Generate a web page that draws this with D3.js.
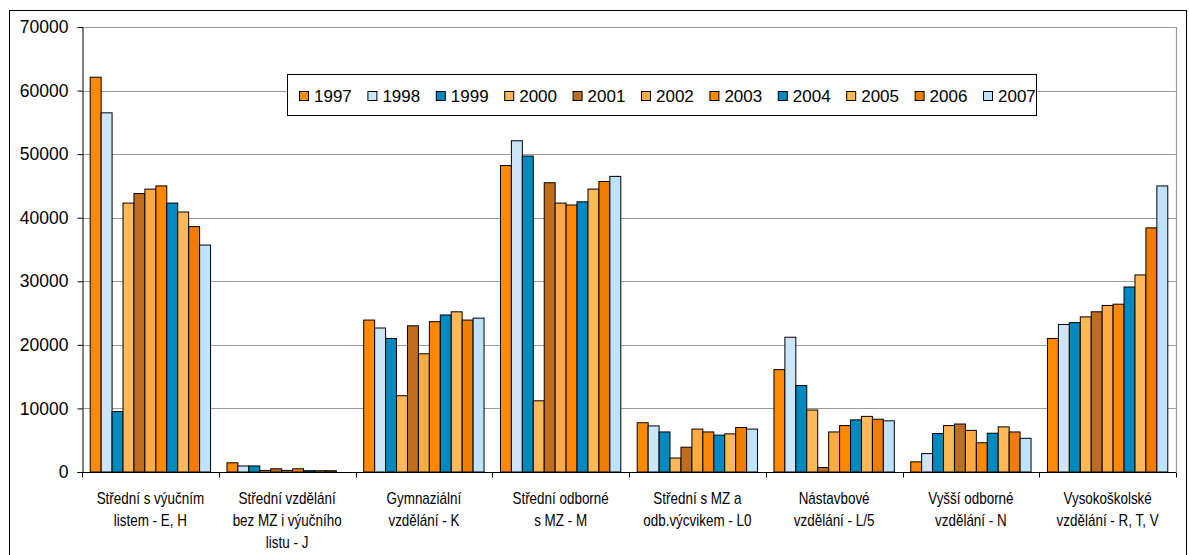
<!DOCTYPE html>
<html><head><meta charset="utf-8">
<script src="https://cdn.jsdelivr.net/npm/d3@7"></script>
<style>body{margin:0;background:#fff;}svg{display:block;}</style>
</head><body>
<svg id="chart" width="1189" height="555"></svg>
<script>
const categories = [
  ["Střední s výučním", "listem - E, H"],
  ["Střední vzdělání", "bez MZ i výučního", "listu - J"],
  ["Gymnaziální", "vzdělání - K"],
  ["Střední odborné", "s MZ - M"],
  ["Střední s MZ a", "odb.výcvikem - L0"],
  ["Nástavbové", "vzdělání - L/5"],
  ["Vyšší odborné", "vzdělání - N"],
  ["Vysokoškolské", "vzdělání - R, T, V"]
];
const years = ["1997","1998","1999","2000","2001","2002","2003","2004","2005","2006","2007"];
const colors = ["#FF8A00","#CDE6F7","#0089BE","#FFB858","#C06E1E","#FFAA45","#FF8800","#008ABF","#FFB858","#F07D00","#BEE3FF"];
// values per year, one entry per category
const v1997 = [62100, 1450, 23900, 48200, 7750, 16100, 1600, 21000];
const v1998 = [56500,  950, 22650, 52100, 7250, 21200, 2900, 23200];
const v1999 = [ 9500,  950, 21000, 49700, 6300, 13600, 6050, 23500];
const v2000 = [42300,  250, 12000, 11200, 2200,  9750, 7300, 24400];
const v2001 = [43800,  500, 23000, 45500, 3900,   700, 7550, 25200];
const v2002 = [44500,  250, 18600, 42300, 6750,  6300, 6550, 26200];
const v2003 = [45000,  500, 23650, 42000, 6300,  7300, 4600, 26400];
const v2004 = [42300,  200, 24700, 42500, 5800,  8200, 6100, 29100];
const v2005 = [40900,  200, 25200, 44500, 6000,  8750, 7100, 31000];
const v2006 = [38600,  200, 23900, 45700, 7000,  8300, 6300, 38400];
const v2007 = [35700,    0, 24200, 46500, 6750,  8050, 5300, 45000];
const series = [v1997,v1998,v1999,v2000,v2001,v2002,v2003,v2004,v2005,v2006,v2007];
const yTicks = [0,10000,20000,30000,40000,50000,60000,70000];

const svg = d3.select("#chart");
const L = 82, R = 1176, T = 27, B = 472;
const font = "'Liberation Sans', Arial, sans-serif";

// outer border
svg.append("rect").attr("x",9.5).attr("y",10.5).attr("width",1177).attr("height",560)
  .attr("fill","none").attr("stroke","#000").attr("stroke-width",1);

const x0 = d3.scaleBand().domain(d3.range(categories.length)).range([L,R]).paddingInner(0).paddingOuter(0);
const bw = x0.bandwidth()/12.5;
const x1 = d3.scaleBand().domain(years).range([0.75*bw, 0.75*bw + 11*bw]).padding(0);
const y = d3.scaleLinear().domain([0,70000]).range([B,T]);

// gridlines
svg.append("g").selectAll("line").data(yTicks.filter(d=>d>0)).join("line")
  .attr("x1",L).attr("x2",R).attr("y1",d=>Math.round(y(d))+0.5).attr("y2",d=>Math.round(y(d))+0.5)
  .attr("stroke","#9a9a9a").attr("stroke-width",1.2);
// right plot border
svg.append("line").attr("x1",R+0.5).attr("x2",R+0.5).attr("y1",T).attr("y2",B).attr("stroke","#9a9a9a").attr("stroke-width",1.2);

// bars
const g = svg.append("g");
series.forEach((vals,si)=>{
  g.append("g").selectAll("rect").data(vals.map((v,ci)=>({v,ci}))).join("rect")
    .filter(d=>d.v>0)
    .attr("x",d=>x0(d.ci)+x1(years[si]))
    .attr("y",d=>y(d.v))
    .attr("width",x1.bandwidth())
    .attr("height",d=>B-y(d.v))
    .attr("fill",colors[si]).attr("stroke","#000").attr("stroke-width",1);
});

// y axis
const yAxis = d3.axisLeft(y).tickValues(yTicks).tickSize(5).tickPadding(9).tickFormat(d3.format("d"));
const ya = svg.append("g").attr("transform",`translate(${L+0.5},0)`).call(yAxis);
ya.select(".domain").attr("stroke","#000");
ya.selectAll("line").attr("stroke","#000");
ya.selectAll("text").attr("font-family",font).attr("font-size","17.5px").attr("fill","#000");

// x axis
const xa = svg.append("g").attr("transform",`translate(0,${B+0.5})`);
xa.append("line").attr("x1",L).attr("x2",R).attr("stroke","#000");
xa.selectAll("line.t").data(d3.range(categories.length+1)).join("line").attr("class","t")
  .attr("x1",i=>Math.round(L+i*x0.bandwidth())+0.5).attr("x2",i=>Math.round(L+i*x0.bandwidth())+0.5)
  .attr("y1",0).attr("y2",5).attr("stroke","#000");
categories.forEach((lines,ci)=>{
  const cx = x0(ci)+x0.bandwidth()/2;
  const t = svg.append("text").attr("transform",`translate(${cx},504) scale(0.84,1)`)
    .attr("text-anchor","middle").attr("font-family",font)
    .attr("font-size","16px").attr("fill","#000");
  lines.forEach((ln,li)=>t.append("tspan").attr("x",0).attr("dy",li===0?0:22).text(ln));
});

// legend
const lg = svg.append("g");
lg.append("rect").attr("x",287.5).attr("y",74.5).attr("width",749).attr("height",41)
  .attr("fill","#fff").attr("stroke","#000").attr("stroke-width",1);
const step = 68.4;
years.forEach((yr,i)=>{
  const gx = 299 + i*step;
  lg.append("rect").attr("x",gx+0.5).attr("y",91.5).attr("width",9).attr("height",9)
    .attr("fill",colors[i]).attr("stroke","#000").attr("stroke-width",1);
  lg.append("text").attr("x",gx+15).attr("y",102).attr("font-family",font).attr("font-size","17px")
    .attr("fill","#000").text(yr);
});
</script>
</body></html>
